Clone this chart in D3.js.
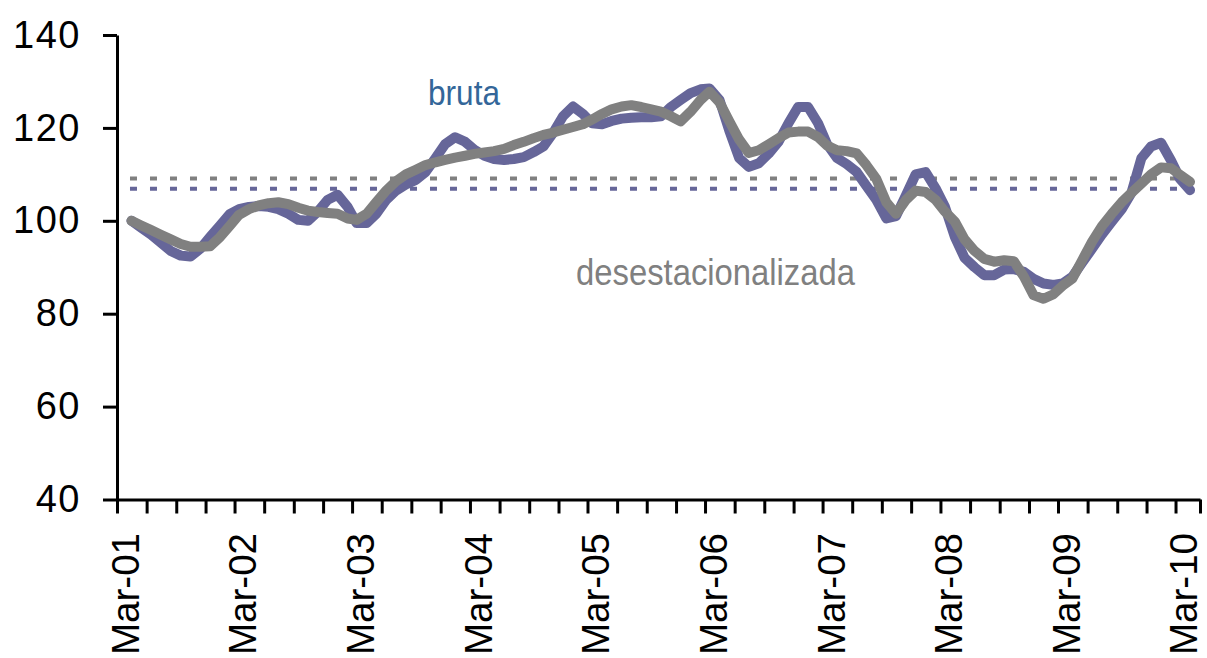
<!DOCTYPE html>
<html>
<head>
<meta charset="utf-8">
<script src="https://cdn.jsdelivr.net/npm/d3@7"></script>
<style>
  body { margin: 0; background: #fff; }
  svg { display: block; }
  text { font-family: "Liberation Sans", Arial, sans-serif; }
</style>
</head>
<body>
<svg id="chart" width="1207" height="658"></svg>
<script>
// monthly index, first observation Apr-01, last Apr-10
const firstMonth = new Date(2001, 3, 15)

const bruta = [
  100, 98.5, 97, 95.3, 93.5, 92.5, 92.3, 94, 96.5, 99, 101.5, 102.5,
  103, 103.2, 103, 102.5, 101.5, 100.2, 100, 102, 104.5, 105.6, 103, 99.5,
  99.5, 101.5, 104.5, 106.5, 107.8, 108.8, 110.5, 113.5, 116.5, 118, 117, 115.3,
  114, 113.3, 113.1, 113.3, 113.7, 114.8, 116, 119, 122.5, 124.6, 123, 121,
  120.8, 121.5, 122, 122.2, 122.3, 122.3, 122.5, 124.5, 126, 127.5, 128.3, 128.5,
  126, 119.5, 113.5, 111.6, 112.4, 114.5, 117, 121, 124.5, 124.5, 121, 116.5,
  113.5, 112.2, 110.5, 107.5, 104.5, 100.5, 101, 105.5, 110, 110.5, 107, 103,
  96.5, 92, 90, 88.3, 88.3, 89.5, 89.6, 89, 87.5, 86.5, 86.2, 86.5,
  88, 91, 94, 97, 99.8, 102.5, 106, 113.5, 116, 116.8, 113, 109, 106.6
]

const desestacionalizada = [
  100, 99, 98, 97, 96, 95, 94.4, 94.4, 94.5, 96.5, 99, 101.3,
  102.5, 103.3, 103.8, 104, 103.6, 102.8, 102.2, 101.9, 101.7, 101.5, 100.5, 100.2,
  101.5, 104, 106.5, 108.5, 110, 111, 112, 112.6, 113.1, 113.6, 114, 114.4,
  114.7, 115, 115.5, 116.3, 117, 117.8, 118.5, 119, 119.6, 120.2, 120.8, 121.8,
  123, 124, 124.6, 124.9, 124.5, 124, 123.5, 122.5, 121.4, 123.5, 126, 127.8,
  125.5, 121.5, 117.5, 114.6, 115.2, 116.5, 117.8, 119, 119.2, 119.2, 118, 116.2,
  115.2, 115, 114.5, 112, 109, 104, 101.5, 104.5, 106.5, 106.2, 104.5, 102,
  99.8, 96, 93.5, 91.8, 91.2, 91.5, 91.3, 88, 84, 83.2, 84.2, 86,
  87.6, 91.5, 95.5, 98.8, 101.5, 104, 106, 108, 110, 111.5, 111.3, 109.9, 108.4
]

// dotted reference levels (averages)
const mediaBruta = 106.9
const mediaDesest = 109.1

const yTicks = [40, 60, 80, 100, 120, 140]
const yearLabels = [2001, 2002, 2003, 2004, 2005, 2006, 2007, 2008, 2009, 2010]

const svg = d3.select('#chart')
const axisStart = new Date(2001, 2, 1)
const axisEnd = new Date(2010, 4, 16)

const x = d3.scaleTime().domain([axisStart, axisEnd]).range([117, 1200])
const y = d3.scaleLinear().domain([40, 140]).range([499.5, 35])

const dates = bruta.map((d, i) => d3.timeMonth.offset(firstMonth, i))

// reference dotted lines
const refs = [
  { v: mediaBruta, color: '#666699' },
  { v: mediaDesest, color: '#808080' }
]
svg.selectAll('line.ref')
  .data(refs)
  .join('line')
  .attr('class', 'ref')
  .attr('x1', x(dates[0]) - 1.5)
  .attr('x2', x(dates[dates.length - 1]))
  .attr('y1', d => y(d.v))
  .attr('y2', d => y(d.v))
  .attr('stroke', d => d.color)
  .attr('stroke-width', 4)
  .attr('stroke-dasharray', '7 13')

// series lines
const line = d3.line()
  .x((d, i) => x(dates[i]))
  .y(d => y(d))

const series = [
  { values: bruta, color: '#666699' },
  { values: desestacionalizada, color: '#808080' }
]
svg.selectAll('path.serie')
  .data(series)
  .join('path')
  .attr('class', 'serie')
  .attr('d', d => line(d.values))
  .attr('fill', 'none')
  .attr('stroke', d => d.color)
  .attr('stroke-width', 10)
  .attr('stroke-linejoin', 'round')
  .attr('stroke-linecap', 'round')

// y axis
const yAxis = svg.append('g')
  .attr('transform', 'translate(117,0)')
  .call(d3.axisLeft(y).tickValues(yTicks).tickSize(14).tickSizeOuter(0).tickPadding(22))
yAxis.select('.domain').attr('stroke', '#000').attr('stroke-width', 3)
yAxis.selectAll('.tick line').attr('stroke', '#000').attr('stroke-width', 3)
yAxis.selectAll('.tick text')
  .attr('font-size', 38)
  .attr('letter-spacing', 1.5)
  .attr('fill', '#000')

// x axis: a tick every quarter plus one at the axis end
const tickDates = d3.timeMonth.range(axisStart, axisEnd, 3).concat([axisEnd])
const xAxis = svg.append('g')
  .attr('transform', 'translate(0,' + y(40) + ')')
  .call(d3.axisBottom(x).tickValues(tickDates).tickSize(14).tickSizeOuter(0).tickFormat(''))
xAxis.select('.domain').attr('stroke', '#000').attr('stroke-width', 3)
xAxis.selectAll('.tick line').attr('stroke', '#000').attr('stroke-width', 3)

const fmt = d3.timeFormat('%b-%y')
svg.append('g')
  .selectAll('text')
  .data(yearLabels)
  .join('text')
  .attr('transform', d => 'translate(' + x(new Date(d, 2, 26)) + ',533) rotate(-90)')
  .attr('text-anchor', 'end')
  .attr('dy', '0.36em')
  .attr('font-size', 38.5)
  .attr('fill', '#000')
  .text(d => fmt(new Date(d, 2, 1)))

// series annotations
svg.append('text')
  .attr('x', 428).attr('y', 105)
  .attr('font-size', 35)
  .attr('textLength', 72)
  .attr('lengthAdjust', 'spacingAndGlyphs')
  .attr('fill', '#336699')
  .text('bruta')

svg.append('text')
  .attr('x', 576).attr('y', 285)
  .attr('font-size', 36)
  .attr('textLength', 279)
  .attr('lengthAdjust', 'spacingAndGlyphs')
  .attr('fill', '#808080')
  .text('desestacionalizada')
</script>
</body>
</html>
